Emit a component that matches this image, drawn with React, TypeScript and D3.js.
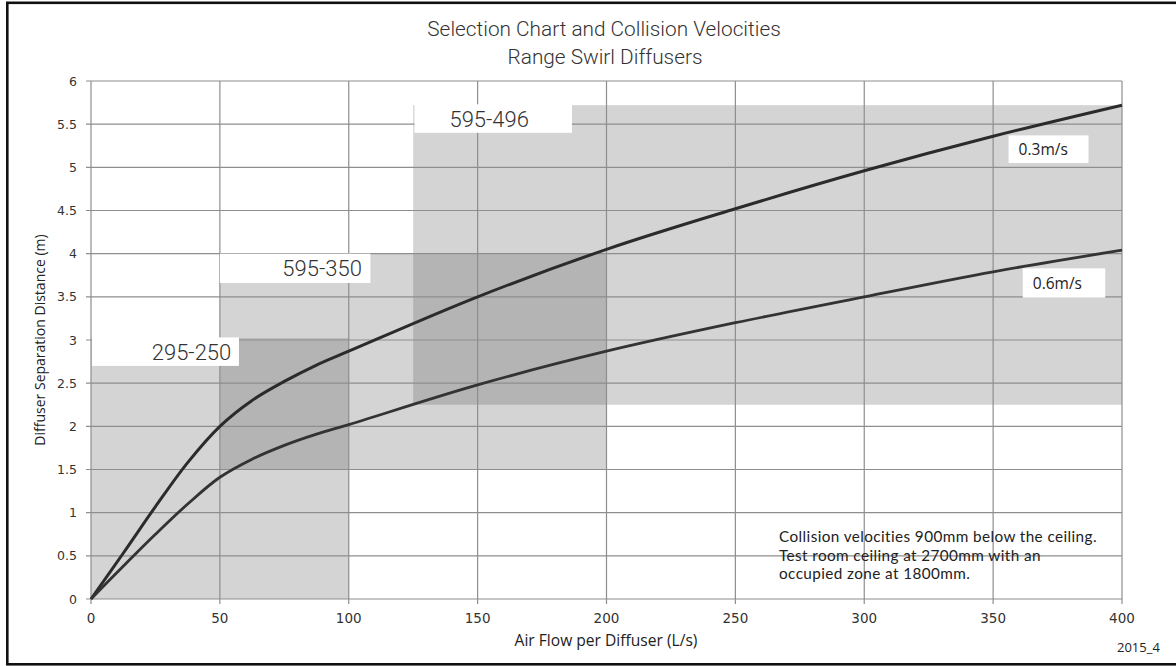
import React from "react";
import * as d3 from "d3";

// ---------- data ----------
const xTicks = [0, 50, 100, 150, 200, 250, 300, 350, 400];
const yTicks = [0, 0.5, 1, 1.5, 2, 2.5, 3, 3.5, 4, 4.5, 5, 5.5, 6];

const flow = [0, 12.5, 25, 37.5, 50, 62.5, 75, 87.5, 100, 150, 200, 250, 300, 350, 400];
const dist03 = [0, 0.53, 1.07, 1.58, 2.0, 2.3, 2.52, 2.71, 2.87, 3.5, 4.05, 4.52, 4.96, 5.36, 5.72];
const dist06 = [0, 0.38, 0.75, 1.1, 1.41, 1.62, 1.78, 1.91, 2.02, 2.48, 2.87, 3.2, 3.5, 3.79, 4.04];

const zoneNames = ["295-250", "595-350", "595-496"];
const zoneFlowMin = [0, 50, 125];
const zoneFlowMax = [100, 200, 400];
const zoneDistMin = [0, 1.5, 2.25];
const zoneDistMax = [3.02, 4.0, 5.72];

const noteLines = [
  "Collision velocities 900mm below the ceiling.",
  "Test room ceiling at 2700mm  with an",
  "occupied zone at 1800mm.",
];

// ---------- layout ----------
const W = 1176;
const H = 666;
const left = 91;
const right = 1122;
const top = 81;
const bottom = 599;

// label boxes in data coordinates
const zoneLabelBoxes = [
  { x0: 0.4, x1: 57.4, y0: 2.7, y1: 3.03, dx: 26 },
  { x0: 50, x1: 108.4, y0: 3.66, y1: 4.0, dx: 27 },
  { x0: 125.5, x1: 186.6, y0: 5.4, y1: 5.73, dx: -4 },
];
const seriesLabelBoxes = [
  { text: "0.3m/s", x0: 356, x1: 387, y0: 5.05, y1: 5.37 },
  { text: "0.6m/s", x0: 361.5, x1: 393.5, y0: 3.49, y1: 3.83 },
];

export default function App() {
  const x = d3.scaleLinear().domain([0, 400]).range([left, right]);
  const y = d3.scaleLinear().domain([0, 6]).range([bottom, top]);

  const line = d3
    .line<number>()
    .x((_, i) => x(flow[i]))
    .y((d) => y(d))
    .curve(d3.curveCatmullRom.alpha(0.5));

  const zones = zoneNames.map((n, i) => ({
    name: n,
    x0: zoneFlowMin[i],
    x1: zoneFlowMax[i],
    y0: zoneDistMin[i],
    y1: zoneDistMax[i],
  }));

  const overlaps: { x0: number; x1: number; y0: number; y1: number }[] = [];
  for (let i = 0; i < zones.length; i++) {
    for (let j = i + 1; j < zones.length; j++) {
      const a = zones[i];
      const b = zones[j];
      const x0 = Math.max(a.x0, b.x0);
      const x1 = Math.min(a.x1, b.x1);
      const y0 = Math.max(a.y0, b.y0);
      const y1 = Math.min(a.y1, b.y1);
      if (x1 > x0 && y1 > y0) overlaps.push({ x0, x1, y0, y1 });
    }
  }

  const gridColor = "#8e8e8e";
  const tickFont = "'DejaVu Sans', Verdana, sans-serif";
  const labelFont = "'Open Sans', sans-serif";
  const noteFont = "Lato, 'Open Sans', sans-serif";
  const lightFont = "Roboto, 'Liberation Sans', sans-serif";

  return (
    <div style={{ position: "absolute", left: 0, top: 0 }}>
      <svg width={W} height={H} style={{ display: "block", background: "#fff" }}>
        <rect x={0} y={0} width={W} height={H} fill="#fff" />
        {/* frame */}
        <rect
          x={7.3}
          y={2.8}
          width={W + 20}
          height={661.5}
          fill="none"
          stroke="#111"
          strokeWidth={2.6}
        />

        {/* title */}
        <text
          x={604}
          y={36}
          textAnchor="middle"
          fontFamily={lightFont}
          fontWeight={300}
          fontSize={20.8}
          fill="#333"
        >
          Selection Chart and Collision Velocities
        </text>
        <text
          x={605}
          y={64}
          textAnchor="middle"
          fontFamily={lightFont}
          fontWeight={300}
          fontSize={20.8}
          fill="#333"
        >
          Range Swirl Diffusers
        </text>

        {/* zones */}
        {zones.map((z) => (
          <rect
            key={z.name}
            x={x(z.x0)}
            y={y(z.y1)}
            width={x(z.x1) - x(z.x0)}
            height={y(z.y0) - y(z.y1)}
            fill="#d4d4d4"
          />
        ))}
        {overlaps.map((o, i) => (
          <rect
            key={"o" + i}
            x={x(o.x0)}
            y={y(o.y1)}
            width={x(o.x1) - x(o.x0)}
            height={y(o.y0) - y(o.y1)}
            fill="#b4b4b4"
          />
        ))}

        {/* grid */}
        {yTicks.map((t) => (
          <line
            key={"gy" + t}
            x1={left - 5}
            x2={right}
            y1={y(t)}
            y2={y(t)}
            stroke={gridColor}
            strokeWidth={1.2}
          />
        ))}
        {xTicks.map((t) => (
          <line
            key={"gx" + t}
            x1={x(t)}
            x2={x(t)}
            y1={top}
            y2={bottom + 5}
            stroke={gridColor}
            strokeWidth={1.2}
          />
        ))}

        {/* zone label boxes */}
        {zoneLabelBoxes.map((b, i) => (
          <g key={"zl" + i}>
            <rect
              x={x(b.x0)}
              y={y(b.y1)}
              width={x(b.x1) - x(b.x0)}
              height={y(b.y0) - y(b.y1)}
              fill="#fff"
            />
            <text
              x={(x(b.x0) + x(b.x1)) / 2 + b.dx}
              y={(y(b.y0) + y(b.y1)) / 2 + 8}
              textAnchor="middle"
              fontFamily={lightFont}
              fontWeight={300}
              fontSize={22}
              fill="#333"
            >
              {zoneNames[i]}
            </text>
          </g>
        ))}

        {/* curves */}
        <path d={line(dist03) || ""} fill="none" stroke="#2b2b2b" strokeWidth={3} />
        <path d={line(dist06) || ""} fill="none" stroke="#333" strokeWidth={2.8} />

        {/* series labels */}
        {seriesLabelBoxes.map((b) => (
          <g key={b.text}>
            <rect
              x={x(b.x0)}
              y={y(b.y1)}
              width={x(b.x1) - x(b.x0)}
              height={y(b.y0) - y(b.y1)}
              fill="#fff"
            />
            <text
              x={x(b.x0) + 10}
              y={(y(b.y0) + y(b.y1)) / 2 + 5.5}
              fontFamily={labelFont}
              fontSize={15.5}
              fill="#222"
            >
              {b.text}
            </text>
          </g>
        ))}

        {/* tick labels */}
        {yTicks.map((t) => (
          <text
            key={"ty" + t}
            x={77}
            y={y(t)}
            dy="0.36em"
            textAnchor="end"
            fontFamily={tickFont}
            fontSize={12.5}
            fill="#333"
          >
            {String(t)}
          </text>
        ))}
        {xTicks.map((t) => (
          <text
            key={"tx" + t}
            x={x(t)}
            y={623}
            textAnchor="middle"
            fontFamily={tickFont}
            fontSize={13.5}
            fill="#333"
          >
            {String(t)}
          </text>
        ))}

        {/* axis titles */}
        <text
          transform={`translate(45,340) rotate(-90)`}
          textAnchor="middle"
          fontFamily={labelFont}
          fontSize={14}
          fill="#222"
        >
          Diffuser Separation Distance (m)
        </text>
        <text
          x={606}
          y={646}
          textAnchor="middle"
          fontFamily={labelFont}
          fontSize={15.6}
          fill="#222"
        >
          Air Flow per Diffuser (L/s)
        </text>

        {/* note */}
        {noteLines.map((l, i) => (
          <text
            key={"n" + i}
            x={779}
            y={542 + i * 18.5}
            fontFamily={noteFont}
            fontSize={15.3}
            letterSpacing={0.4}
            fill="#222"
          >
            {l}
          </text>
        ))}
        <text x={1117} y={651.5} fontFamily={labelFont} fontSize={13} fill="#222">
          2015_4
        </text>
      </svg>
    </div>
  );
}
